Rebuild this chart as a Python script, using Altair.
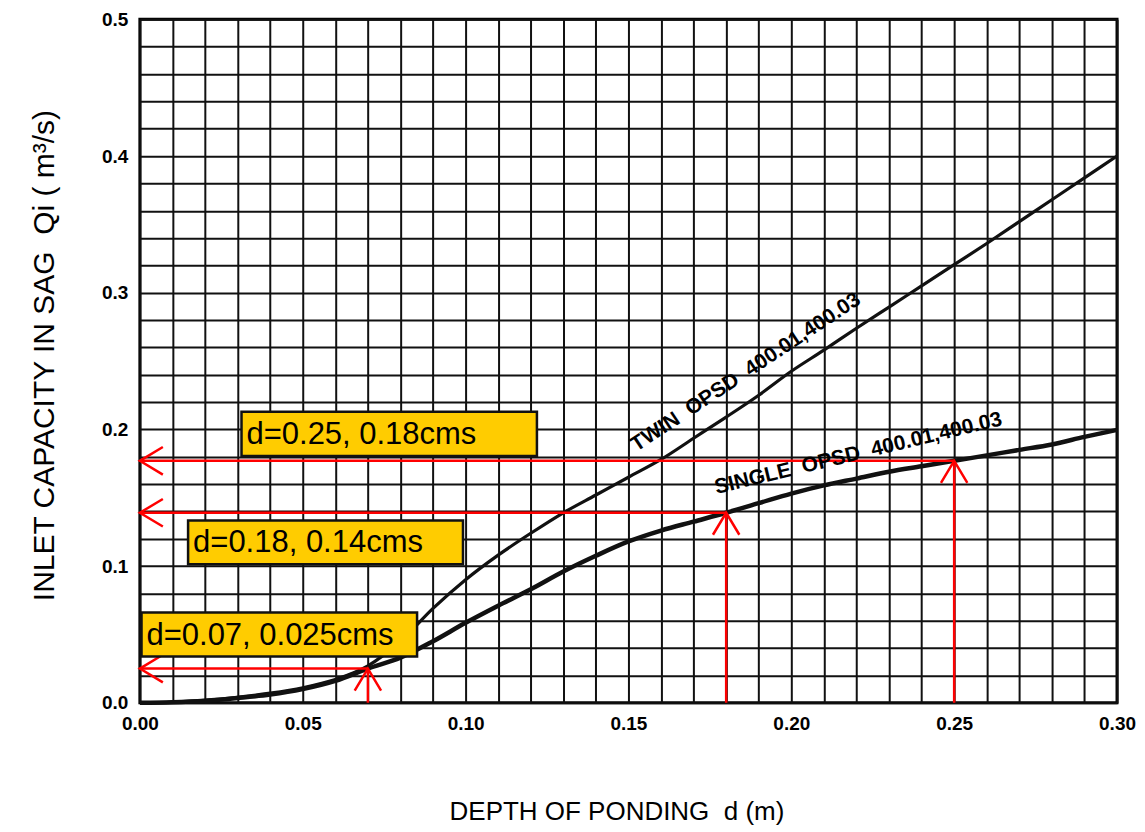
import altair as alt
import pandas as pd

# ---- data ----
depth = [0.00, 0.01, 0.02, 0.03, 0.04, 0.05, 0.06, 0.07, 0.08, 0.09, 0.10,
         0.11, 0.12, 0.13, 0.14, 0.15, 0.16, 0.17, 0.18, 0.19, 0.20,
         0.21, 0.22, 0.23, 0.24, 0.25, 0.26, 0.27, 0.28, 0.29, 0.30]
twin_q = [0.000, 0.0005, 0.0018, 0.004, 0.007, 0.011, 0.017, 0.027, 0.045, 0.069, 0.090,
          0.108, 0.124, 0.139, 0.152, 0.165, 0.178, 0.1935, 0.209, 0.225, 0.2425,
          0.258, 0.274, 0.2895, 0.305, 0.3205, 0.336, 0.352, 0.368, 0.384, 0.400]
single_q = [0.000, 0.0004, 0.0015, 0.0035, 0.006, 0.010, 0.016, 0.025, 0.033, 0.045, 0.0585,
            0.071, 0.083, 0.096, 0.1075, 0.118, 0.126, 0.1325, 0.139, 0.146, 0.153,
            0.159, 0.164, 0.169, 0.173, 0.177, 0.181, 0.185, 0.189, 0.1945, 0.1996]

x_ticks = [round(i * 0.01, 2) for i in range(31)]
y_ticks = [round(i * 0.02, 2) for i in range(26)]

curve_labels = ["TWIN\u00a0 OPSD\u00a0 400.01,400.03", "SINGLE\u00a0 OPSD\u00a0 400.01,400.03"]
curve_label_d = [0.1525, 0.177]
curve_label_q = [0.1835, 0.1528]
curve_label_angle = [326.5, 346.5]

read_d = [0.25, 0.18, 0.07]
read_q = [0.177, 0.139, 0.025]
read_text = ["d=0.25, 0.18cms", "d=0.18, 0.14cms", "d=0.07, 0.025cms"]
box_d1 = [0.0312, 0.0148, 0.0005]
box_d2 = [0.1219, 0.0992, 0.0851]
box_q1 = [0.1806, 0.1014, 0.0338]
box_q2 = [0.2129, 0.1333, 0.0660]

# ---- tables ----
curves = pd.DataFrame({
    "d": depth * 2,
    "q": twin_q + single_q,
    "series": ["twin"] * len(depth) + ["single"] * len(depth),
})
reads = pd.DataFrame({"d": read_d, "q": read_q, "zero": [0.0] * 3})
boxes = pd.DataFrame({"d1": box_d1, "d2": box_d2, "q1": box_q1, "q2": box_q2, "txt": read_text})
boxes["qm"] = (boxes["q1"] + boxes["q2"]) / 2

FONT = "Liberation Sans, Arial, Helvetica, sans-serif"

x_scale = alt.Scale(domain=[0, 0.30], nice=False, zero=False)
y_scale = alt.Scale(domain=[0, 0.5], nice=False, zero=False)

x_axis = alt.Axis(
    values=x_ticks,
    labelExpr="round(datum.value*100) % 5 == 0 ? format(datum.value, '.2f') : ''",
    title="DEPTH OF PONDING\u00a0 d (m)",
    grid=True, gridColor="#111111", gridWidth=2, gridOpacity=1,
    ticks=False, tickSize=0, domain=False,
    labelFont=FONT, labelFontSize=19, labelFontWeight="bold", labelColor="#000000",
    labelPadding=12, labelOverlap=False, labelFlush=False,
    titleFont=FONT, titleFontSize=26, titleFontWeight="normal", titleColor="#000000",
    titleX=477, titleY=96, titleBaseline="top", titleAlign="center",
)
y_axis = alt.Axis(
    values=y_ticks,
    labelExpr="round(datum.value*100) % 10 == 0 ? format(datum.value, '.1f') : ''",
    title="INLET CAPACITY IN SAG\u00a0 Qi ( m\u00b3/s)",
    grid=True, gridColor="#111111", gridWidth=2, gridOpacity=1,
    ticks=False, tickSize=0, domain=False,
    labelFont=FONT, labelFontSize=19, labelFontWeight="bold", labelColor="#000000",
    labelPadding=12, labelOverlap=False, labelFlush=False,
    titleFont=FONT, titleFontSize=30, titleFontWeight="normal", titleColor="#000000",
    titleAngle=270, titleX=-86, titleY=336, titleBaseline="alphabetic", titleAlign="center",
)


def X(field):
    return alt.X(field, type="quantitative", scale=x_scale, axis=x_axis)


def Y(field):
    return alt.Y(field, type="quantitative", scale=y_scale, axis=y_axis)


base_curves = alt.Chart(curves)
twin_line = base_curves.transform_filter(alt.datum.series == "twin").mark_line(
    color="#111111", strokeWidth=3.2, interpolate="monotone"
).encode(x=X("d"), y=Y("q"))
single_line = base_curves.transform_filter(alt.datum.series == "single").mark_line(
    color="#111111", strokeWidth=4.5, interpolate="monotone"
).encode(x=X("d"), y=Y("q"))

rb = alt.Chart(reads)
h_rules = rb.mark_rule(color="#ff0000", strokeWidth=2.5).encode(
    x=X("zero"), x2="d", y=Y("q"))
v_rules = rb.mark_rule(color="#ff0000", strokeWidth=2.5).encode(
    x=X("d"), y=Y("zero"), y2="q")
left_heads = rb.mark_point(
    shape="M 1 -0.6 L 0 0 L 1 0.6", size=2116, filled=False,
    color="#ff0000", strokeWidth=2.5, opacity=1
).encode(x=X("zero"), y=Y("q"))
up_heads = rb.mark_point(
    shape="M -0.6 1 L 0 0 L 0.6 1", size=1936, filled=False,
    color="#ff0000", strokeWidth=2.5, opacity=1
).encode(x=X("d"), y=Y("q"))

bb = alt.Chart(boxes)
box_rects = bb.mark_rect(fill="#FFCC00", stroke="#111111", strokeWidth=2.5).encode(
    x=X("d1"), x2="d2", y=Y("q1"), y2="q2")
box_texts = bb.mark_text(
    align="left", baseline="middle", dx=5, dy=1, fontSize=31, font=FONT, color="#000000"
).encode(x=X("d1"), y=Y("qm"), text="txt:N")

label_layers = []
for txt, ld, lq, ang in zip(curve_labels, curve_label_d, curve_label_q, curve_label_angle):
    lab = alt.Chart(pd.DataFrame({"d": [ld], "q": [lq], "t": [txt]})).mark_text(
        align="left", baseline="alphabetic", angle=ang, fontSize=21,
        fontWeight="bold", font=FONT, color="#000000"
    ).encode(x=X("d"), y=Y("q"), text="t:N")
    label_layers.append(lab)

chart = alt.layer(
    twin_line, single_line, h_rules, v_rules, left_heads, up_heads,
    box_rects, box_texts, *label_layers
).properties(
    width=978, height=684,
    autosize=alt.AutoSizeParams(type="none"),
    padding={"left": 132, "top": 11, "right": 20, "bottom": 126},
    background="white",
).configure_view(stroke="#000000", strokeWidth=3)

chart.save("out.html", embed_options={"renderer": "svg", "actions": False})
